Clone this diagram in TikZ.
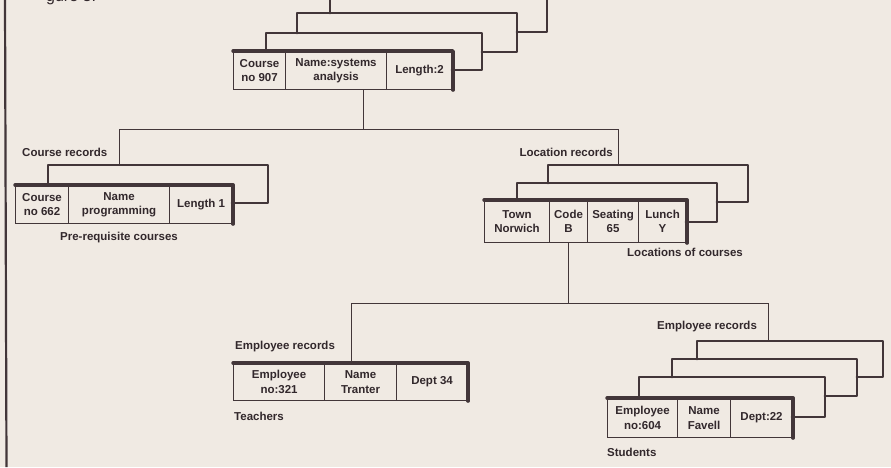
\documentclass[tikz,border=0pt]{standalone}
\usepackage{fontspec}
\setmainfont{Liberation Sans}
\definecolor{inkc}{RGB}{66,54,57}
\definecolor{txtc}{RGB}{50,40,44}
\definecolor{bgc}{RGB}{240,234,227}
\newcommand\cellfont{\fontsize{11.5}{14.5}\selectfont\bfseries}
\newcommand\lblfont{\fontsize{11.5}{14}\selectfont\bfseries}
\newcommand\rcell[6]{\node[cell, minimum width=#3-#2, minimum height=#5-#4, anchor=north west] (#1) at (#2,#4) {#6};}
\begin{document}
\begin{tikzpicture}[x=1pt,y=-1pt,
  conn/.style={draw=inkc, line width=1pt},
  layer/.style={draw=inkc, line width=2.9pt, line join=round, line cap=round},
  shadow/.style={draw=inkc, line width=3.4pt, line cap=round, line join=round},
  cell/.style={draw=inkc, line width=1.1pt, inner sep=0pt, align=center, font=\cellfont, text=txtc},
  lbl/.style={inner sep=0pt, font=\lblfont, text=txtc},
]
\useasboundingbox (0,0) rectangle (891,467);
\fill[bgc] (0,0) rectangle (891,467);
\clip (0,0) rectangle (891,467);

% cut-off title and left rule
\node[anchor=base west, inner sep=0pt, font=\fontsize{16}{16}\selectfont, text=txtc] (title) at (46,1.5) {gure 3.};
\coordinate (ruleT) at (5,0);
\coordinate (ruleB) at (6.5,467);
\draw[draw=inkc, line width=2.2pt] (ruleT) -- (ruleB);

% ---------- top course stack ----------
\draw[layer] (330,13) -- (330,-6);
\draw[layer] (547,-6) -- (547,32) -- (517,32);
\draw[layer] (297,33) -- (297,13) -- (517,13) -- (517,52) -- (482,52);
\draw[layer] (266,51) -- (266,33) -- (482,33) -- (482,70) -- (452,70);
\rcell{t1}{233}{285}{51}{89}{Course\\no 907}
\rcell{t2}{285}{386}{51}{89}{Name:systems\\analysis}
\rcell{t3}{386}{452}{51}{89}{Length:2}
\draw[shadow] (t1.north west) -- (t3.north east) -- (t3.south east);

% connectors from top
\coordinate (j0) at (363,129);
\coordinate (jL) at (119,129);
\coordinate (jR) at (618,129);
\draw[conn] (j0 |- t2.south) -- (j0);
\draw[conn] (jL) -- (jR);

% ---------- left course stack ----------
\coordinate (cL2) at (48,165);
\draw[layer] (48,185) -- (cL2) -- (268,165) -- (268,203) -- (232,203);
\rcell{c1}{15}{68}{185}{223}{Course\\no 662}
\rcell{c2}{68}{169}{185}{223}{Name\\programming}
\rcell{c3}{169}{232}{185}{223}{Length 1}
\draw[shadow] (c1.north west) -- (c3.north east) -- (c3.south east);
\draw[conn] (jL) -- (jL |- cL2);
\node[lbl, anchor=west] (crlab) at (22,152) {Course records};
\node[lbl, anchor=west] (prlab) at (60,238) {Pre-requisite courses};

% ---------- location stack ----------
\coordinate (lL3) at (548,165);
\draw[layer] (548,183) -- (lL3) -- (748,165) -- (748,202) -- (717,202);
\draw[layer] (517,200) -- (517,183) -- (717,183) -- (717,222) -- (686,222);
\rcell{l1}{484}{549}{200}{242}{Town\\Norwich}
\rcell{l2}{549}{587}{200}{242}{Code\\B}
\rcell{l3}{587}{638}{200}{242}{Seating\\65}
\rcell{l4}{638}{686}{200}{242}{Lunch\\Y}
\draw[shadow] (l1.north west) -- (l4.north east) -- (l4.south east);
\draw[conn] (jR) -- (jR |- lL3);
\node[lbl, anchor=east] (lrlab) at (613,152) {Location records};
\node[lbl, anchor=west] (lclab) at (627,252) {Locations of courses};

% connectors from location
\coordinate (k0) at (568,303);
\coordinate (kL) at (351,303);
\coordinate (kR) at (768,303);
\draw[conn] (k0 |- l2.south) -- (k0);
\draw[conn] (kL) -- (kR);

% ---------- left employee (teachers) ----------
\rcell{e1}{233}{324}{363}{400}{Employee\\no:321}
\rcell{e2}{324}{396}{363}{400}{Name\\Tranter}
\rcell{e3}{396}{467}{363}{400}{Dept 34}
\draw[shadow] (e1.north west) -- (e3.north east) -- (e3.south east);
\draw[conn] (kL) -- (kL |- e2.north);
\node[lbl, anchor=west] (erlab1) at (235,347) {Employee records};
\node[lbl, anchor=west] (tlab) at (234,416) {Teachers};

% ---------- right employee (students) ----------
\coordinate (sL4) at (697,341);
\draw[layer] (697,359) -- (sL4) -- (883,341) -- (883,377) -- (857,377);
\draw[layer] (672,377) -- (672,359) -- (857,359) -- (857,396) -- (825,396);
\draw[layer] (639,398) -- (639,377) -- (825,377) -- (825,417) -- (792,417);
\rcell{s1}{607}{677}{398}{437}{Employee\\no:604}
\rcell{s2}{677}{730}{398}{437}{Name\\Favell}
\rcell{s3}{730}{792}{398}{437}{Dept:22}
\draw[shadow] (s1.north west) -- (s3.north east) -- (s3.south east);
\draw[conn] (kR) -- (kR |- sL4);
\node[lbl, anchor=west] (erlab2) at (657,327) {Employee records};
\node[lbl, anchor=west] (slab) at (607,452) {Students};
\end{tikzpicture}
\end{document}
